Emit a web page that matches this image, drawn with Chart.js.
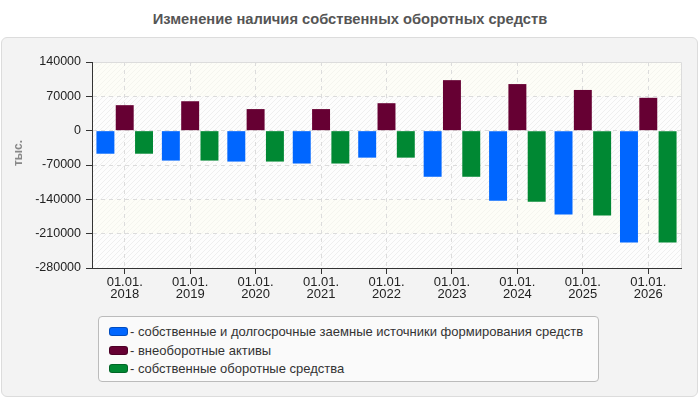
<!DOCTYPE html>
<html>
<head>
<meta charset="utf-8">
<script src="https://cdn.jsdelivr.net/npm/chart.js@4.4.1/dist/chart.umd.min.js"></script>
<style>
  html, body { margin: 0; padding: 0; background: #fff; }
  body { width: 700px; height: 400px; position: relative; overflow: hidden; font-family: "Liberation Sans", Arial, sans-serif; }
  #title { position: absolute; left: 0; top: 11px; width: 700px; text-align: center; font-size: 14.7px; font-weight: bold; color: #555; }
  #panel { position: absolute; left: 1px; top: 37px; width: 695px; height: 358px; background: #f3f3f3; border: 1px solid #dcdcdc; border-radius: 6px; }
  #chart { position: absolute; left: 0; top: 0; }
  #legend { position: absolute; left: 98px; top: 316px; width: 501px; height: 66px; background: #fafafa; border: 1px solid #bbb; border-radius: 4px; box-sizing: border-box; padding-top: 6px; }
  .item { height: 18.5px; line-height: 18.5px; font-size: 13px; color: #333; padding-left: 10px; white-space: nowrap; }
  .sw { display: inline-block; width: 17px; height: 7px; border-radius: 3px; border: 1px solid rgba(0,0,0,0.25); vertical-align: middle; margin-right: 2px; position: relative; top: -1px; }
</style>
</head>
<body>
<div id="title">Изменение наличия собственных оборотных средств</div>
<div id="panel"></div>
<canvas id="chart" width="700" height="400"></canvas>
<div id="legend"></div>
<script>
(function () {
    'use strict';

    var YEARS = ['2018', '2019', '2020', '2021', '2022', '2023', '2024', '2025', '2026'];
    var SERIES_NAMES = [
        'собственные и долгосрочные заемные источники формирования средств',
        'внеоборотные активы',
        'собственные оборотные средства'
    ];
    var SOURCES = [-47000, -61000, -63000, -67000, -55000, -94000, -143000, -171000, -228000];
    var NONCURRENT = [52000, 60000, 44000, 44000, 56000, 103000, 95000, 83000, 67000];
    var WORKING = [-47000, -61000, -63000, -67000, -55000, -94000, -145000, -173000, -228000];
    var Y_MIN = -280000;
    var Y_MAX = 140000;
    var Y_STEP = 70000;
    var Y_UNIT = 'тыс.';

    var COLORS = ['#0066ff', '#660033', '#008833'];
    var FONT = '"Liberation Sans", Arial, sans-serif';

    // legend as html
    var legend = document.getElementById('legend');
    SERIES_NAMES.forEach(function (name, i) {
        var row = document.createElement('div');
        row.className = 'item';
        var sw = document.createElement('span');
        sw.className = 'sw';
        sw.style.background = COLORS[i];
        row.appendChild(sw);
        row.appendChild(document.createTextNode('- ' + name));
        legend.appendChild(row);
    });

    function makeHatch(base, line) {
        var c = document.createElement('canvas');
        c.width = 5; c.height = 5;
        var g = c.getContext('2d');
        g.fillStyle = base;
        g.fillRect(0, 0, 5, 5);
        g.strokeStyle = line;
        g.lineWidth = 1;
        g.beginPath();
        g.moveTo(0, 5); g.lineTo(5, 0);
        g.moveTo(-1, 1); g.lineTo(1, -1);
        g.moveTo(4, 6); g.lineTo(6, 4);
        g.stroke();
        return c;
    }

    var plotBg = {
        id: 'plotBg',
        beforeDraw: function (chart) {
            var a = chart.chartArea, ctx = chart.ctx, y = chart.scales.y;
            var white = ctx.createPattern(makeHatch('#fdfdfd', '#efefef'), 'repeat');
            var cream = ctx.createPattern(makeHatch('#fdfdf7', '#f5f5ef'), 'repeat');
            ctx.save();
            ctx.fillStyle = white;
            ctx.fillRect(a.left, a.top, a.right - a.left, a.bottom - a.top);
            ctx.fillStyle = cream;
            [[70000, 140000], [-210000, -140000]].forEach(function (b) {
                var t = y.getPixelForValue(b[1]), bt = y.getPixelForValue(b[0]);
                ctx.fillRect(a.left, t, a.right - a.left, bt - t);
            });
            ctx.strokeStyle = '#dcdcdc';
            ctx.lineWidth = 1;
            ctx.beginPath();
            ctx.moveTo(a.left, a.top + 0.5);
            ctx.lineTo(a.right + 0.5, a.top + 0.5);
            ctx.lineTo(a.right + 0.5, a.bottom);
            ctx.stroke();

            // unit label on the left
            ctx.translate(19, 153);
            ctx.rotate(-Math.PI / 2);
            ctx.fillStyle = '#888';
            ctx.font = 'bold 12px ' + FONT;
            ctx.textAlign = 'center';
            ctx.textBaseline = 'middle';
            ctx.fillText(Y_UNIT, 0, 0);
            ctx.restore();
        }
    };

    function dataset(label, data, color) {
        return {
            label: label,
            data: data,
            backgroundColor: color,
            borderWidth: 0,
            categoryPercentage: 0.885,
            barPercentage: 0.93
        };
    }

    new Chart(document.getElementById('chart'), {
        type: 'bar',
        data: {
            labels: YEARS.map(function (y) { return ['01.01.', y]; }),
            datasets: [
                dataset(SERIES_NAMES[0], SOURCES, COLORS[0]),
                dataset(SERIES_NAMES[1], NONCURRENT, COLORS[1]),
                dataset(SERIES_NAMES[2], WORKING, COLORS[2])
            ]
        },
        options: {
            responsive: false,
            animation: false,
            devicePixelRatio: 1,
            layout: { padding: { left: 0, top: 62, right: 19, bottom: 0 } },
            plugins: {
                legend: { display: false },
                tooltip: { enabled: false }
            },
            scales: {
                x: {
                    afterFit: function (s) { s.height = 132; },
                    grid: {
                        offset: false,
                        color: '#dcdcdc',
                        tickColor: '#333',
                        tickLength: 6
                    },
                    border: { color: '#333', width: 1, dash: [4, 4] },
                    ticks: {
                        color: '#222',
                        padding: 2,
                        maxRotation: 0,
                        font: { family: FONT, size: 13, lineHeight: 0.95 }
                    }
                },
                y: {
                    min: Y_MIN,
                    max: Y_MAX,
                    afterFit: function (s) { s.width = 92; },
                    grid: {
                        color: '#dcdcdc',
                        tickColor: '#333',
                        tickLength: 6
                    },
                    border: { color: '#333', width: 1, dash: [4, 4] },
                    ticks: {
                        stepSize: Y_STEP,
                        color: '#222',
                        padding: 5,
                        font: { family: FONT, size: 12.5 },
                        callback: function (v) { return String(v); }
                    }
                }
            }
        },
        plugins: [plotBg]
    });
})();
</script>
</body>
</html>
